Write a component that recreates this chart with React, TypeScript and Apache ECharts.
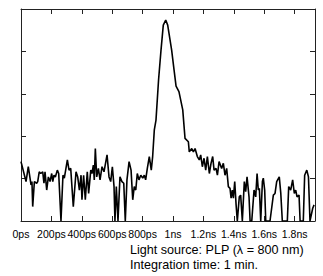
import React, { useEffect, useRef } from "react";
import * as echarts from "echarts";

const timesPs = [
  0, 33, 48, 66, 72, 77, 88, 103, 110, 120, 130, 143, 151, 158, 169, 180, 191, 202, 209, 217,
  226, 239, 248, 263, 276, 285, 305, 316, 327, 344, 362, 373, 384, 395, 401, 412, 423, 436, 445, 459,
  467, 476, 482, 489, 498, 509, 520, 533, 546, 566, 579, 590, 601, 612, 618, 627, 638, 651, 664, 676,
  686, 697, 711, 724, 735, 745, 755, 765, 776, 788, 801, 811, 820, 831, 844, 857, 866, 877, 888, 905,
  921, 936, 952, 965, 991, 1007, 1020, 1039, 1064, 1079, 1101, 1107, 1123, 1134, 1145, 1160, 1173, 1182, 1193, 1204,
  1215, 1226, 1239, 1250, 1261, 1270, 1283, 1292, 1303, 1320, 1331, 1342, 1353, 1364, 1375, 1382, 1390, 1397, 1406, 1415,
  1423, 1436, 1445, 1456, 1469, 1478, 1487, 1500, 1507, 1518, 1533, 1544, 1553, 1561, 1568, 1577, 1588, 1594, 1603, 1610,
  1638, 1660, 1671, 1682, 1699, 1709, 1719, 1752, 1761, 1774, 1787, 1798, 1807, 1816, 1829, 1836, 1857, 1866, 1880, 1891,
  1901, 1919, 1928,
];

const intensity = [
  1.4, 0.93, 1.28, 0.85, 0.93, 0.34, 0.93, 0.89, 0.93, 1.16, 1.12, 1.16, 0.89, 1.16, 0.73, 1.04, 0.93, 1.12, 0.93, 1.08,
  1.04, 1.2, 1.12, 0, 1.08, 1.01, 1.44, 1.2, 1.24, 0.34, 1.16, 1.04, 0.73, 1.08, 0.5, 1.08, 0.5, 1.16, 0.65, 1.2,
  1.12, 1.32, 0.97, 1.71, 1.04, 1.24, 0.97, 1.28, 1.16, 1.56, 1.04, 0.93, 1.28, 0.81, 0, 0.81, 0, 1.04, 0.93, 0.89,
  0, 0.97, 1.4, 1.2, 0.5, 0.81, 0.73, 1.12, 0.97, 1.08, 1.01, 1.08, 0.97, 1.24, 1.52, 1.2, 1.52, 2.15, 2.38, 3.33,
  4.03, 4.62, 4.74, 4.62, 4.03, 3.56, 3.18, 3.05, 2.62, 1.95, 1.87, 1.63, 1.71, 1.63, 1.71, 1.52, 1.44, 1.56, 1.28, 1.48,
  1.2, 1.52, 1.12, 1.36, 1.52, 1.2, 1.24, 1.08, 1.4, 1.24, 1.36, 1.08, 1.24, 0.81, 0.77, 0.54, 0.73, 0.54, 0.93, 0.38,
  0, 0.57, 0.61, 0, 0.93, 0.69, 1.04, 0.57, 0, 0, 0.73, 0.57, 1.12, 0.73, 0.77, 0, 0.93, 1.01, 0.73, 0,
  0, 0.61, 0.65, 0.93, 1.04, 0.65, 0, 0, 0.81, 0.73, 0.97, 0.65, 0.73, 0.57, 0.61, 0, 0, 1.08, 1.2, 1.04,
  0, 0.3, 0.38,
];

const xTickLabels = ["0ps", "200ps", "400ps", "600ps", "800ps", "1ns", "1.2ns", "1.4ns", "1.6ns", "1.8ns"];
const noteLines = ["Light source: PLP (\u03bb = 800 nm)", "Integration time: 1 min."];

const X_MAX = 1934;
const FONT = "'Liberation Sans', Arial, sans-serif";

export default function App() {
  const ref = useRef<HTMLDivElement>(null);
  useEffect(() => {
    if (!ref.current) return;
    const chart = echarts.init(ref.current, null, { renderer: "svg" });
    const axisLine = { show: true, onZero: false, lineStyle: { color: "#222", width: 1 } };
    const axisTick = { show: true, inside: true, length: 5, lineStyle: { color: "#222", width: 1 } };
    chart.setOption({
      animation: false,
      grid: { left: 21, top: 9, right: 8, bottom: 55, containLabel: false },
      xAxis: [
        {
          type: "value",
          min: 0,
          max: X_MAX,
          interval: 200,
          position: "bottom",
          axisLine,
          axisTick,
          splitLine: { show: false },
          axisLabel: {
            show: true,
            margin: 7,
            fontSize: 10.5,
            fontFamily: FONT,
            color: "#000",
            showMaxLabel: false,
            formatter: (v: number) => xTickLabels[Math.round(v / 200)] ?? "",
          },
        },
        {
          type: "value",
          min: 0,
          max: X_MAX,
          interval: 200,
          position: "top",
          axisLine,
          axisTick,
          splitLine: { show: false },
          axisLabel: { show: false },
        },
      ],
      yAxis: [
        {
          type: "value",
          min: 0,
          max: 5,
          interval: 1,
          position: "left",
          axisLine,
          axisTick,
          splitLine: { show: false },
          axisLabel: { show: false },
        },
        {
          type: "value",
          min: 0,
          max: 5,
          interval: 1,
          position: "right",
          axisLine,
          axisTick,
          splitLine: { show: false },
          axisLabel: { show: false },
        },
      ],
      graphic: [
        {
          type: "text",
          left: 130,
          top: 243.5,
          style: {
            text: noteLines[0],
            fontSize: 12.6,
            fontFamily: FONT,
            fill: "#000",
          },
        },
        {
          type: "text",
          left: 130,
          top: 258,
          style: {
            text: noteLines[1],
            fontSize: 12.6,
            fontFamily: FONT,
            fill: "#000",
          },
        },
      ],
      series: [
        {
          type: "line",
          data: timesPs.map((t, i) => [t, intensity[i]]),
          showSymbol: false,
          symbol: "none",
          lineStyle: { color: "#000", width: 1.6 },
          clip: true,
        },
      ],
    });
    return () => chart.dispose();
  }, []);
  return <div ref={ref} style={{ width: 323, height: 276, position: "absolute", left: 0, top: 0 }} />;
}
